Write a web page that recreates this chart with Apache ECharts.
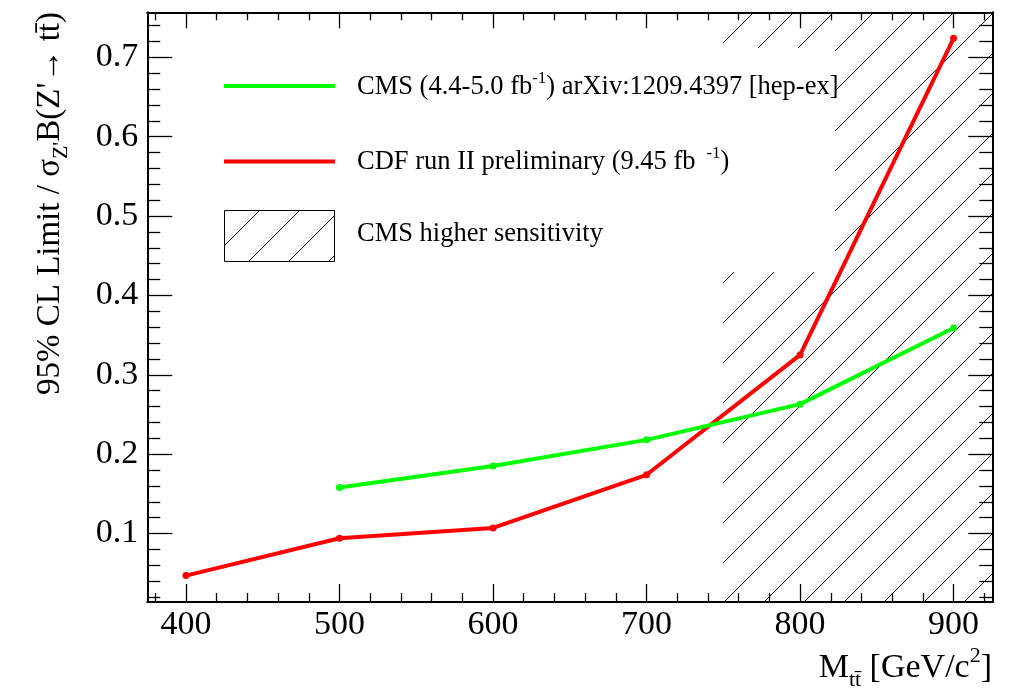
<!DOCTYPE html>
<html>
<head>
<meta charset="utf-8">
<script src="https://cdn.jsdelivr.net/npm/echarts@6/dist/echarts.min.js"></script>
<style>
  html, body { margin: 0; padding: 0; background: #fff; }
  #chart { width: 1013px; height: 690px; }
</style>
</head>
<body>
<div id="chart"></div>
<script>
// Z' -> ttbar cross-section limits (95% CL) versus resonance mass
const masses   = [400, 500, 600, 700, 800, 900];              // GeV/c^2
const cdfLimit = [0.047, 0.094, 0.107, 0.174, 0.325, 0.724];  // CDF run II preliminary
const cmsLimit = [null, 0.158, 0.185, 0.218, 0.263, 0.359];   // CMS 4.4-5.0 fb^-1
const cmsSensitiveFrom = 750;                                 // start of the hatched band

const xRange = [374.8, 925.2];
const yRange = [0.0137, 0.7567];
const xMajorTicks = [400, 500, 600, 700, 800, 900];
const xTickLabels = ['400', '500', '600', '700', '800', '900'];
const yMajorTicks = [0.1, 0.2, 0.3, 0.4, 0.5, 0.6, 0.7];
const yTickLabels = ['0.1', '0.2', '0.3', '0.4', '0.5', '0.6', '0.7'];

// minor ticks: every 20 GeV on x, every 0.02 on y
const xMinorTicks = [];
for (let v = 380; v <= 920; v += 20) if (v % 100 !== 0) xMinorTicks.push(v);
const yMinorTicks = [];
for (let k = 1; k <= 37; k++) if (k % 5 !== 0) yMinorTicks.push(+(k * 0.02).toFixed(2));

const SERIF = "'Liberation Serif', 'DejaVu Serif', serif";

// 45 degree hatch tile, lines satisfy x + y = phase (mod period)
function hatchTile(period, phase) {
  const c = document.createElement('canvas');
  c.width = period; c.height = period;
  const g = c.getContext('2d');
  g.strokeStyle = '#000';
  g.lineWidth = 1;
  for (let k = -1; k <= 2; k++) {
    const C = phase + k * period;
    g.beginPath();
    g.moveTo(C - 2 * period, 2 * period);
    g.lineTo(2 * period, C - 2 * period);
    g.stroke();
  }
  return { image: c, repeat: 'repeat' };
}
const bandHatch = hatchTile(40, 6);
const keyHatch = hatchTile(40, 30);

const tickStyle = { color: '#000', width: 1.3 };

function makeXAxis(position, values, length, withLabels) {
  return {
    type: 'value', position, min: xRange[0], max: xRange[1],
    axisLine: { show: values === xMajorTicks, onZero: false, lineStyle: { color: '#000', width: 2 } },
    axisTick: { show: true, inside: true, length, customValues: values, lineStyle: tickStyle },
    axisLabel: withLabels ? {
      show: true, customValues: xMajorTicks, margin: 6,
      formatter: v => xTickLabels[xMajorTicks.indexOf(v)],
      color: '#000', fontSize: 34, fontFamily: SERIF
    } : { show: false },
    splitLine: { show: false }
  };
}
function makeYAxis(position, values, length, withLabels) {
  return {
    type: 'value', position, min: yRange[0], max: yRange[1],
    axisLine: { show: values === yMajorTicks, onZero: false, lineStyle: { color: '#000', width: 2 } },
    axisTick: { show: true, inside: true, length, customValues: values, lineStyle: tickStyle },
    axisLabel: withLabels ? {
      show: true, customValues: yMajorTicks, margin: 9,
      formatter: v => yTickLabels[yMajorTicks.indexOf(+v.toFixed(2))],
      color: '#000', fontSize: 34, fontFamily: SERIF
    } : { show: false },
    splitLine: { show: false }
  };
}

const chart = echarts.init(document.getElementById('chart'), null, { renderer: 'canvas' });

chart.setOption({
  animation: false,
  backgroundColor: '#fff',
  grid: { left: 147.3, right: 20.7, top: 12.3, bottom: 88, containLabel: false },
  xAxis: [
    makeXAxis('bottom', xMajorTicks, 18, true),
    makeXAxis('bottom', xMinorTicks, 9, false),
    makeXAxis('top', xMajorTicks, 16, false),
    makeXAxis('top', xMinorTicks, 8, false)
  ],
  yAxis: [
    makeYAxis('left', yMajorTicks, 25, true),
    makeYAxis('left', yMinorTicks, 13, false),
    makeYAxis('right', yMajorTicks, 24, false),
    makeYAxis('right', yMinorTicks, 13, false)
  ],
  series: [
    {
      name: 'CMS higher sensitivity',
      type: 'line', data: [], z: 1, silent: true,
      markArea: {
        silent: true,
        itemStyle: { color: bandHatch, opacity: 1, borderWidth: 0 },
        data: [[{ xAxis: cmsSensitiveFrom }, { xAxis: xRange[1] }]]
      }
    },
    {
      name: 'CDF run II preliminary',
      type: 'line', z: 3,
      data: masses.map((m, i) => [m, cdfLimit[i]]),
      symbol: 'circle', symbolSize: 7, showSymbol: true,
      lineStyle: { color: '#ff0000', width: 4 },
      itemStyle: { color: '#ff0000' }
    },
    {
      name: 'CMS',
      type: 'line', z: 4,
      data: masses.map((m, i) => [m, cmsLimit[i]]).filter(p => p[1] !== null),
      symbol: 'circle', symbolSize: 7, showSymbol: true,
      lineStyle: { color: '#00ff00', width: 4 },
      itemStyle: { color: '#00ff00' }
    }
  ],
  graphic: {
    elements: [
      // legend panel
      { type: 'rect', z: 50, shape: { x: 200, y: 48, width: 635, height: 224 }, style: { fill: '#fff' } },
      { type: 'line', z: 51, shape: { x1: 224, y1: 86, x2: 335, y2: 86 }, style: { stroke: '#00ff00', lineWidth: 4 } },
      { type: 'line', z: 51, shape: { x1: 224, y1: 161.5, x2: 335, y2: 161.5 }, style: { stroke: '#ff0000', lineWidth: 4 } },
      { type: 'rect', z: 51, shape: { x: 224.5, y: 210.5, width: 110, height: 51 }, style: { fill: keyHatch, stroke: '#000', lineWidth: 1 } },
      {
        type: 'text', z: 52, x: 357, y: 87,
        style: {
          text: 'CMS (4.4-5.0 fb{sup|-1}) arXiv:1209.4397 [hep-ex]',
          fill: '#000', fontSize: 26.5, fontFamily: SERIF, verticalAlign: 'middle', lineHeight: 34,
          rich: { sup: { fontSize: 17, fontFamily: SERIF, fill: '#000', verticalAlign: 'top', lineHeight: 34 } }
        }
      },
      {
        type: 'text', z: 52, x: 357, y: 162,
        style: {
          text: 'CDF run II preliminary (9.45 fb {sup| -1})',
          fill: '#000', fontSize: 26.5, fontFamily: SERIF, verticalAlign: 'middle', lineHeight: 34,
          rich: { sup: { fontSize: 17, fontFamily: SERIF, fill: '#000', verticalAlign: 'top', lineHeight: 34 } }
        }
      },
      {
        type: 'text', z: 52, x: 357, y: 234,
        style: { text: 'CMS higher sensitivity', fill: '#000', fontSize: 26.5, fontFamily: SERIF, verticalAlign: 'middle' }
      },
      // axis titles
      {
        type: 'text', z: 52, x: 992, y: 668,
        style: {
          text: 'M{sub|tt\u0304} [GeV/c{sup|2}]',
          fill: '#000', fontSize: 34, fontFamily: SERIF, align: 'right', verticalAlign: 'middle', lineHeight: 46,
          rich: {
            sub: { fontSize: 22, fontFamily: SERIF, fill: '#000', verticalAlign: 'bottom', lineHeight: 46 },
            sup: { fontSize: 22, fontFamily: SERIF, fill: '#000', verticalAlign: 'top', lineHeight: 46 }
          }
        }
      },
      {
        type: 'text', z: 52, x: 50, y: 12, rotation: Math.PI / 2,
        style: {
          text: "95% CL Limit / \u03c3{sub|Z'}B(Z'\u2192 tt\u0304)",
          fill: '#000', fontSize: 33, fontFamily: SERIF, align: 'right', verticalAlign: 'middle', lineHeight: 44,
          rich: { sub: { fontSize: 22, fontFamily: SERIF, fill: '#000', verticalAlign: 'bottom', lineHeight: 44 } }
        }
      }
    ]
  }
});
</script>
</body>
</html>
